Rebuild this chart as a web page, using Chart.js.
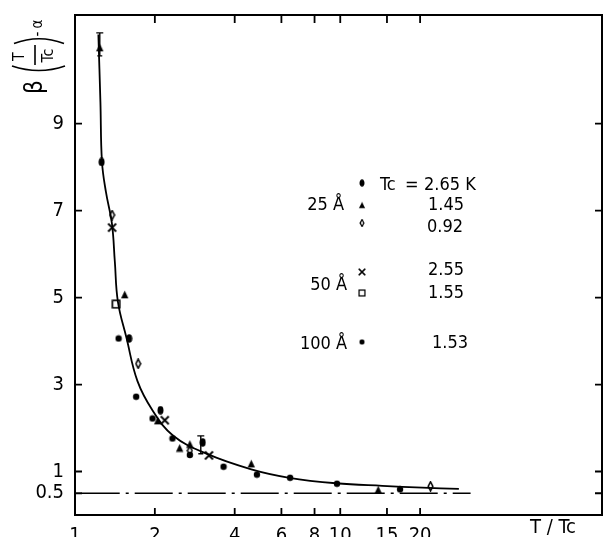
<!DOCTYPE html>
<html>
<head>
<meta charset="utf-8">
<script src="https://cdn.jsdelivr.net/npm/chart.js@4/dist/chart.umd.min.js"></script>
<style>
  html, body { margin: 0; padding: 0; background: #fff; }
  #wrap { width: 608px; height: 537px; }
</style>
</head>
<body>
<div id="wrap"><canvas id="chart"></canvas></div>
<script>
const FONT = "'DejaVu Sans Condensed', 'DejaVu Sans', sans-serif";

const xTicks = [1, 2, 4, 6, 8, 10, 15, 20];
const yTicks = [0.5, 1, 3, 5, 7, 9];

// 25 A, Tc = 2.65 K
const tc265X = [1.26, 1.60, 2.10, 3.03];
const tc265Y = [8.12, 4.06, 2.41, 1.67];
// 25 A, Tc = 1.45 K
const tc145X = [1.24, 1.54, 2.05, 2.48, 2.71, 4.62, 13.9];
const tc145Y = [10.75, 5.07, 2.17, 1.54, 1.63, 1.18, 0.58];
// 25 A, Tc = 0.92 K
const tc092X = [1.38, 1.73, 2.71, 21.9];
const tc092Y = [6.90, 3.48, 1.48, 0.66];
// 50 A, Tc = 2.55 K
const tc255X = [1.38, 2.18, 3.20];
const tc255Y = [6.61, 2.18, 1.37];
// 50 A, Tc = 1.55 K
const tc155X = [1.43];
const tc155Y = [4.85];
// 100 A, Tc = 1.53 K
const tc153X = [1.46, 1.70, 1.96, 2.33, 2.71, 3.63, 4.85, 6.47, 9.72, 16.8];
const tc153Y = [4.06, 2.72, 2.22, 1.76, 1.38, 1.11, 0.93, 0.856, 0.72, 0.59];

// error bars
const errX = [1.24, 2.98];
const errLo = [10.56, 1.41];
const errHi = [11.09, 1.82];

// fitted curve
const curveX = [1.225, 1.247, 1.264, 1.308, 1.378, 1.413, 1.451, 1.564, 1.72, 1.964, 2.34, 3.13, 4.62, 6.43, 9.63, 14.4, 20.4, 28.0];
const curveY = [11.05, 9.49, 8.12, 7.43, 6.70, 5.83, 4.91, 4.07, 3.08, 2.40, 1.83, 1.41, 1.05, 0.856, 0.73, 0.67, 0.63, 0.60];

// asymptote
const limitX = [1.06, 31];
const limitY = [0.5, 0.5];

function pts(xs, ys) {
  return xs.map((x, i) => ({ x, y: ys[i] }));
}

function makeMark(w, h, draw) {
  const c = document.createElement("canvas");
  c.width = w;
  c.height = h;
  const g = c.getContext("2d");
  g.fillStyle = "#000";
  g.strokeStyle = "#000";
  draw(g, w, h);
  return c;
}

const eightMark = makeMark(7, 9, (g, w, h) => {
  g.beginPath();
  g.ellipse(w / 2, h / 2, 3, 4.3, 0, 0, Math.PI * 2);
  g.fill();
});
const diamondMark = makeMark(7, 11, (g, w, h) => {
  g.lineWidth = 1.6;
  g.beginPath();
  g.moveTo(w / 2, 1);
  g.lineTo(w - 1.2, h / 2);
  g.lineTo(w / 2, h - 1);
  g.lineTo(1.2, h / 2);
  g.closePath();
  g.stroke();
});
const triMark = makeMark(9, 9, (g, w, h) => {
  g.beginPath();
  g.moveTo(w / 2, 0.5);
  g.lineTo(w - 0.8, h - 0.8);
  g.lineTo(0.8, h - 0.8);
  g.closePath();
  g.fill();
});
const crossMark = makeMark(11, 11, (g, w, h) => {
  g.lineWidth = 1.8;
  g.beginPath();
  g.moveTo(1.5, 1.5); g.lineTo(w - 1.5, h - 1.5);
  g.moveTo(w - 1.5, 1.5); g.lineTo(1.5, h - 1.5);
  g.stroke();
});
const squareMark = makeMark(10, 10, (g, w, h) => {
  g.lineWidth = 1.6;
  g.strokeRect(1.3, 1.3, w - 2.6, h - 2.6);
});
const dotMark = makeMark(8, 8, (g, w, h) => {
  g.beginPath();
  g.arc(w / 2, h / 2, 3.2, 0, Math.PI * 2);
  g.fill();
});

function markSet(label, xs, ys, mark) {
  return {
    type: "scatter",
    label,
    data: pts(xs, ys),
    pointStyle: mark,
    pointRadius: 5,
    showLine: false,
  };
}

const decor = {
  id: "decor",
  afterDatasetsDraw(chart) {
    const { ctx, chartArea: a, scales } = chart;
    const xs = scales.x;
    const ys = scales.y;
    ctx.save();
    ctx.strokeStyle = "#000";
    ctx.fillStyle = "#000";

    // frame
    ctx.lineWidth = 2;
    ctx.strokeRect(a.left, a.top, a.right - a.left, a.bottom - a.top);

    // inward ticks
    ctx.lineWidth = 1.8;
    ctx.beginPath();
    xTicks.forEach((v) => {
      if (v === 1) return;
      const px = xs.getPixelForValue(v);
      ctx.moveTo(px, a.bottom); ctx.lineTo(px, a.bottom - 7);
      ctx.moveTo(px, a.top); ctx.lineTo(px, a.top + 8);
    });
    yTicks.forEach((v) => {
      const py = ys.getPixelForValue(v);
      ctx.moveTo(a.left, py); ctx.lineTo(a.left + 7, py);
      ctx.moveTo(a.right, py); ctx.lineTo(a.right - 7, py);
    });
    ctx.stroke();

    // error bars
    ctx.lineWidth = 1.4;
    errX.forEach((v, i) => {
      const px = xs.getPixelForValue(v);
      const lo = ys.getPixelForValue(errLo[i]);
      const hi = ys.getPixelForValue(errHi[i]);
      ctx.beginPath();
      ctx.moveTo(px, lo); ctx.lineTo(px, hi);
      ctx.moveTo(px - 3.5, hi); ctx.lineTo(px + 3.5, hi);
      ctx.moveTo(px - 2.5, lo); ctx.lineTo(px + 2.5, lo);
      ctx.stroke();
    });

    // x-axis name
    ctx.font = "20px " + FONT;
    ctx.textAlign = "center";
    ctx.textBaseline = "alphabetic";
    ctx.fillText("T / Tc", 553, 533);

    // y-axis name, rotated
    ctx.save();
    ctx.translate(36, 87);
    ctx.rotate(-Math.PI / 2);
    ctx.textAlign = "center";
    ctx.textBaseline = "middle";
    ctx.font = "24px " + FONT;
    ctx.fillText("\u03B2", 0, 0);
    ctx.font = "16px " + FONT;
    ctx.fillText("T", 30.5, -16);
    ctx.fillText("Tc", 31.5, 12.5);
    ctx.font = "15px " + FONT;
    ctx.fillText("-", 53, 2);
    ctx.fillText("\u03B1", 63, 2);
    ctx.lineWidth = 1.6;
    ctx.beginPath();
    ctx.moveTo(21, -24); ctx.quadraticCurveTo(12, 3, 21, 29);
    ctx.moveTo(43.5, -22); ctx.quadraticCurveTo(53, 3, 43.5, 28);
    ctx.moveTo(22, -1); ctx.lineTo(42, -1);
    ctx.stroke();
    ctx.restore();

    // key
    ctx.font = "18px " + FONT;
    ctx.textBaseline = "alphabetic";
    ctx.textAlign = "right";
    ctx.fillText("25 \u00C5", 344, 210);
    ctx.fillText("50 \u00C5", 347, 290);
    ctx.fillText("100 \u00C5", 347, 349);
    ctx.textAlign = "left";
    ctx.fillText("Tc", 380, 190);
    ctx.fillText("=", 405, 190);
    ctx.fillText("2.65 K", 424, 190);
    ctx.fillText("1.45", 428, 210);
    ctx.fillText("0.92", 427, 232);
    ctx.fillText("2.55", 428, 275);
    ctx.fillText("1.55", 428, 298);
    ctx.fillText("1.53", 432, 348);
    const keyMarks = [
      [eightMark, 183], [triMark, 205], [diamondMark, 223],
      [crossMark, 272], [squareMark, 293], [dotMark, 342],
    ];
    keyMarks.forEach(([m, py]) => {
      const k = 0.8;
      ctx.drawImage(m, 362 - (m.width * k) / 2, py - (m.height * k) / 2, m.width * k, m.height * k);
    });
    ctx.restore();
  },
};

new Chart(document.getElementById("chart"), {
  data: {
    datasets: [
      {
        type: "line",
        label: "fit",
        data: pts(curveX, curveY),
        borderColor: "#000",
        borderWidth: 1.8,
        pointRadius: 0,
        tension: 0.4,
        fill: false,
      },
      {
        type: "line",
        label: "limit",
        data: pts(limitX, limitY),
        borderColor: "#000",
        borderWidth: 1.6,
        borderDash: [38, 6, 3, 6],
        pointRadius: 0,
        fill: false,
      },
      markSet("Tc 2.65 K", tc265X, tc265Y, eightMark),
      markSet("Tc 1.45 K", tc145X, tc145Y, triMark),
      markSet("Tc 0.92 K", tc092X, tc092Y, diamondMark),
      markSet("Tc 2.55 K", tc255X, tc255Y, crossMark),
      markSet("Tc 1.55 K", tc155X, tc155Y, squareMark),
      markSet("Tc 1.53 K", tc153X, tc153Y, dotMark),
    ],
  },
  options: {
    responsive: true,
    maintainAspectRatio: false,
    animation: false,
    layout: { padding: { top: 11, right: 3, left: 0, bottom: 0 } },
    plugins: { legend: { display: false }, tooltip: { enabled: false } },
    scales: {
      x: {
        type: "logarithmic",
        min: 1,
        max: 97,
        grid: { display: false },
        border: { display: false },
        afterBuildTicks: (s) => { s.ticks = xTicks.map((v) => ({ value: v })); },
        afterFit: (s) => { s.height = 22; },
        ticks: {
          autoSkip: false,
          maxRotation: 0,
          padding: 1,
          color: "#000",
          font: { family: FONT, size: 20 },
          callback: (v) => String(v),
        },
      },
      y: {
        type: "linear",
        min: 0,
        max: 11.5,
        grid: { display: false },
        border: { display: false },
        afterBuildTicks: (s) => { s.ticks = yTicks.map((v) => ({ value: v })); },
        afterFit: (s) => { s.width = 75; },
        ticks: {
          autoSkip: false,
          padding: 3,
          color: "#000",
          font: { family: FONT, size: 20 },
          callback: (v) => String(v),
        },
      },
    },
  },
  plugins: [decor],
});
</script>
</body>
</html>
